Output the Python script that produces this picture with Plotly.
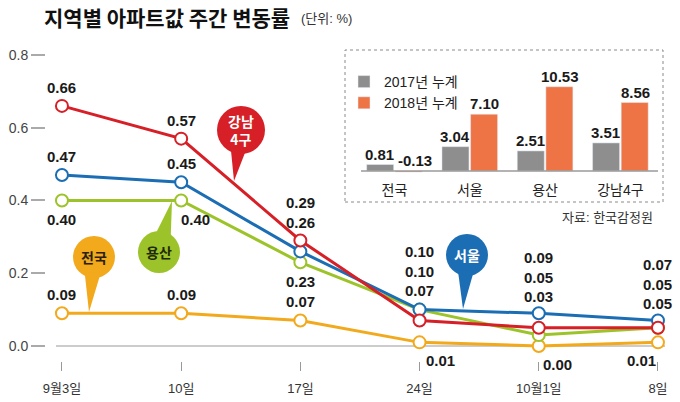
import math
import plotly.graph_objects as go

W, H = 680, 402

# ---------------- data ----------------
weeks = ["9월3일", "10일", "17일", "24일", "10월1일", "8일"]
gangnam = [0.66, 0.57, 0.29, 0.07, 0.05, 0.05]
seoul = [0.47, 0.45, 0.26, 0.10, 0.09, 0.07]
yongsan = [0.40, 0.40, 0.23, 0.10, 0.03, 0.05]
national = [0.09, 0.09, 0.07, 0.01, 0.00, 0.01]

y_ticks = [0.0, 0.2, 0.4, 0.6, 0.8]
y_ticktext = ["0.0", "0.2", "0.4", "0.6", "0.8"]

regions = ["전국", "서울", "용산", "강남4구"]
cum2017 = [0.81, 3.04, 2.51, 3.51]
cum2018 = [-0.13, 7.10, 10.53, 8.56]

# ---------------- styles ----------------
RED = "#d61f26"
BLUE = "#1b6db4"
GREEN = "#9cc42a"
ORANGE = "#f2a91c"
GRAY_BAR = "#8e8e8e"
ORANGE_BAR = "#ee7445"
NUM_FONT = "Liberation Sans Narrow, Liberation Sans, Arial, sans-serif"
KR_FONT = "Liberation Sans, Noto Sans CJK KR, sans-serif"
KR_BOLD = "Noto Sans CJK KR, sans-serif"


def px(x):
    return x / W


def py(y):
    return 1 - y / H


fig = go.Figure()

series = [
    ("전국", national, ORANGE),
    ("용산", yongsan, GREEN),
    ("서울", seoul, BLUE),
    ("강남4구", gangnam, RED),
]
for name, vals, col in series:
    fig.add_trace(go.Scatter(
        x=weeks, y=vals, mode="lines+markers", name=name, showlegend=False,
        line=dict(color=col, width=3),
        marker=dict(size=12, color="white", line=dict(color=col, width=2)),
        hoverinfo="skip", xaxis="x", yaxis="y",
    ))

# inset bars
fig.add_trace(go.Bar(x=regions, y=cum2017, name="2017년 누계", marker_color=GRAY_BAR,
                     xaxis="x2", yaxis="y2", hoverinfo="skip"))
fig.add_trace(go.Bar(x=regions, y=cum2018, name="2018년 누계", marker_color=ORANGE_BAR,
                     xaxis="x2", yaxis="y2", hoverinfo="skip"))

ann = []
shapes = []


def fmt(v):
    return f"{v:.2f}"


def lab(xi, vals, anchor, where, xshift=0, yshift=None):
    text = "<br>".join(fmt(v) for v in vals)
    if where == "above":
        ya, ys = "bottom", 8 if yshift is None else yshift
    else:
        ya, ys = "top", -9 if yshift is None else yshift
    ann.append(dict(x=weeks[xi], y=anchor, xref="x", yref="y", text=f"<b>{text}</b>",
                    showarrow=False, yanchor=ya, xanchor="center", yshift=ys, xshift=xshift,
                    font=dict(family=NUM_FONT, size=15, color="#1a1a1a")))


for i in (0, 1):
    lab(i, [gangnam[i]], gangnam[i], "above")
    lab(i, [seoul[i]], seoul[i], "above")
    lab(i, [yongsan[i]], yongsan[i], "below", xshift=0 if i == 0 else 14)
    lab(i, [national[i]], national[i], "above")

lab(2, [gangnam[2], seoul[2]], gangnam[2], "above")
lab(2, [yongsan[2], national[2]], yongsan[2], "below")
lab(3, [seoul[3], yongsan[3], gangnam[3]], seoul[3], "above", yshift=9)
lab(4, [seoul[4], gangnam[4], yongsan[4]], seoul[4], "above", yshift=6)
lab(5, [seoul[5], gangnam[5], yongsan[5]], seoul[5], "above", yshift=7)
lab(3, [national[3]], national[3], "below", xshift=21, yshift=-8)
lab(4, [national[4]], national[4], "below", xshift=19, yshift=-8)
lab(5, [national[5]], national[5], "below", xshift=-16, yshift=-8)

# zero baseline of main chart
shapes.append(dict(type="line", xref="x", yref="y", x0=-0.05, x1=5.06, y0=0, y1=0,
                   line=dict(color="#9a9a9a", width=1.2), layer="below"))


# callout bubbles
def bubble(cx, cy, r, tx, ty, col, text, tcol):
    shapes.append(dict(type="circle", xref="paper", yref="paper",
                       x0=px(cx - r), x1=px(cx + r), y0=py(cy + r), y1=py(cy - r),
                       fillcolor=col, line=dict(width=0)))
    dx, dy = tx - cx, ty - cy
    d = math.hypot(dx, dy)
    ux, uy = dx / d, dy / d
    pxv, pyv = -uy, ux
    bx, by = cx + ux * r * 0.75, cy + uy * r * 0.75
    hw = 8
    p1 = (bx + pxv * hw, by + pyv * hw)
    p2 = (bx - pxv * hw, by - pyv * hw)
    path = (f"M {px(p1[0])},{py(p1[1])} L {px(tx)},{py(ty)} "
            f"L {px(p2[0])},{py(p2[1])} Z")
    shapes.append(dict(type="path", xref="paper", yref="paper", path=path,
                       fillcolor=col, line=dict(width=0)))
    ann.append(dict(x=px(cx), y=py(cy), xref="paper", yref="paper", text=f"<b>{text}</b>",
                    showarrow=False, xanchor="center", yanchor="middle",
                    font=dict(family=KR_BOLD, size=14, color=tcol)))


bubble(241, 130, 24, 234, 181, RED, "강남<br>4구", "white")
bubble(94, 257, 21, 89, 312, ORANGE, "전국", "#2a2010")
bubble(159, 252, 21, 172, 201, GREEN, "용산", "#1f2a08")
bubble(467, 255, 21, 463, 309, BLUE, "서울", "white")

# inset frame + baseline
shapes.append(dict(type="rect", xref="paper", yref="paper",
                   x0=px(345), x1=px(663), y0=py(202), y1=py(50),
                   line=dict(color="#8a8a8a", width=1, dash="dot"), fillcolor="white",
                   layer="below"))
shapes.append(dict(type="line", xref="paper", yref="y2", x0=px(361), x1=px(658), y0=0, y1=0,
                   line=dict(color="#9a9a9a", width=1.5)))

for vals, xs in ((cum2017, -15), (cum2018, 15)):
    for reg, v in zip(regions, vals):
        ann.append(dict(x=reg, y=max(v, 0), xref="x2", yref="y2", text=f"<b>{fmt(v)}</b>",
                        showarrow=False, xanchor="center", yanchor="bottom",
                        xshift=xs + (6 if v < 0 else 0),
                        yshift=0, font=dict(family=NUM_FONT, size=15, color="#1a1a1a")))

# titles
ann.append(dict(x=px(42), y=py(17), xref="paper", yref="paper",
                text="<b>지역별 아파트값 주간 변동률</b>", showarrow=False,
                xanchor="left", yanchor="middle",
                font=dict(family=KR_BOLD, size=21, color="#111111")))
ann.append(dict(x=px(299), y=py(19), xref="paper", yref="paper",
                text="(단위: %)", showarrow=False, xanchor="left", yanchor="middle",
                font=dict(family=KR_FONT, size=13, color="#333333")))
ann.append(dict(x=px(655), y=py(217), xref="paper", yref="paper",
                text="자료: 한국감정원", showarrow=False, xanchor="right", yanchor="middle",
                font=dict(family=KR_FONT, size=13, color="#333333")))

fig.update_layout(
    width=W, height=H,
    margin=dict(l=0, r=0, t=0, b=0, autoexpand=False),
    paper_bgcolor="white", plot_bgcolor="rgba(0,0,0,0)",
    showlegend=True,
    legend=dict(x=px(344), y=py(66), xanchor="left", yanchor="top",
                bgcolor="rgba(0,0,0,0)", font=dict(family=KR_FONT, size=14, color="#222"),
                tracegroupgap=2, itemwidth=30),
    barmode="group", bargap=0.24, bargroupgap=0.056,
    xaxis=dict(domain=[px(46), px(665)], range=[-0.134, 5.059], type="category",
               showgrid=False, zeroline=False, showline=False, automargin=False,
               ticks="outside", ticklen=9, tickcolor="#999999", tickwidth=1,
               tickfont=dict(family=KR_FONT, size=13, color="#333333"),
               ticklabelstandoff=6, anchor="y"),
    yaxis=dict(domain=[py(361), py(40)], range=[-0.04124, 0.8412],
               tickvals=y_ticks, ticktext=y_ticktext, automargin=False,
               showgrid=False, zeroline=False, showline=False,
               ticks="outside", ticklen=14, tickcolor="#aaaaaa", tickwidth=1.5,
               tickfont=dict(family="Liberation Sans, Arial, sans-serif", size=14, color="#444444"),
               anchor="x"),
    xaxis2=dict(domain=[px(345), px(663)], range=[-0.657, 3.566], type="category",
                anchor="y2", showgrid=False, zeroline=False, showline=False, ticks="",
                automargin=False,
                tickfont=dict(family=KR_FONT, size=14, color="#222222")),
    yaxis2=dict(domain=[py(180), py(60)], range=[-1.125, 13.875], anchor="x2",
                visible=False, showgrid=False, zeroline=False, automargin=False),
    shapes=shapes, annotations=ann,
)

fig.write_html("out.html", config={"displayModeBar": False},
               post_script="document.body.style.margin='0px';"
                           "document.body.style.overflow='hidden';")
